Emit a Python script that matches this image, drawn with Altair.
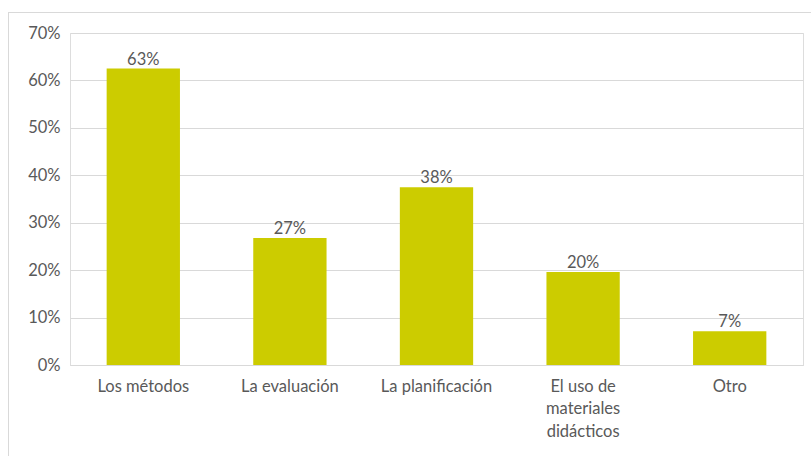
import altair as alt
import pandas as pd

categories = ["Los métodos", "La evaluación", "La planificación", "El uso de materiales didácticos", "Otro"]
values = [0.625, 0.268, 0.375, 0.196, 0.071]

df = pd.DataFrame({"cat": categories, "val": values})
FONT = "Lato"
GRAY = "#595959"
FS = 16.5

label_expr = ("datum.label == 'El uso de materiales didácticos' ? "
              "['El uso de', 'materiales', 'didácticos'] : datum.label")

base = alt.Chart(df).encode(
    x=alt.X("cat:N", sort=categories, title=None,
            scale=alt.Scale(paddingInner=0.5, paddingOuter=0.25),
            axis=alt.Axis(labelAngle=0, labelExpr=label_expr, labelLineHeight=22.5,
                          labelPadding=13, ticks=False, domainColor="#d9d9d9",
                          labelFont=FONT, labelFontSize=FS, labelColor=GRAY)),
    y=alt.Y("val:Q", title=None,
            scale=alt.Scale(domain=[0, 0.7]),
            axis=alt.Axis(format=".0%", values=[0, 0.1, 0.2, 0.3, 0.4, 0.5, 0.6, 0.7],
                          ticks=False, domain=False, gridColor="#d9d9d9",
                          labelPadding=10, labelFont=FONT, labelFontSize=FS,
                          labelColor=GRAY)),
)

bars = base.mark_bar(color="#CCCC00")
text = base.mark_text(baseline="bottom", dy=-1, font=FONT, fontSize=FS, color=GRAY).encode(
    text=alt.Text("val:Q", format=".0%"))

frame = alt.Chart(df).mark_rect(fill=None, stroke="#d9d9d9", strokeWidth=1).encode(
    x=alt.value(-61.5), x2=alt.value(745), y=alt.value(-20.5), y2=alt.value(430))

chart = alt.layer(frame, bars, text).properties(
    width=733, height=332,
    autosize=alt.AutoSizeParams(type="none"),
    padding={"left": 70, "top": 33, "right": 8, "bottom": 91},
).configure_view(stroke=None).configure(background="white")

chart.save("out.html", embed_options={"renderer": "svg", "actions": False})
